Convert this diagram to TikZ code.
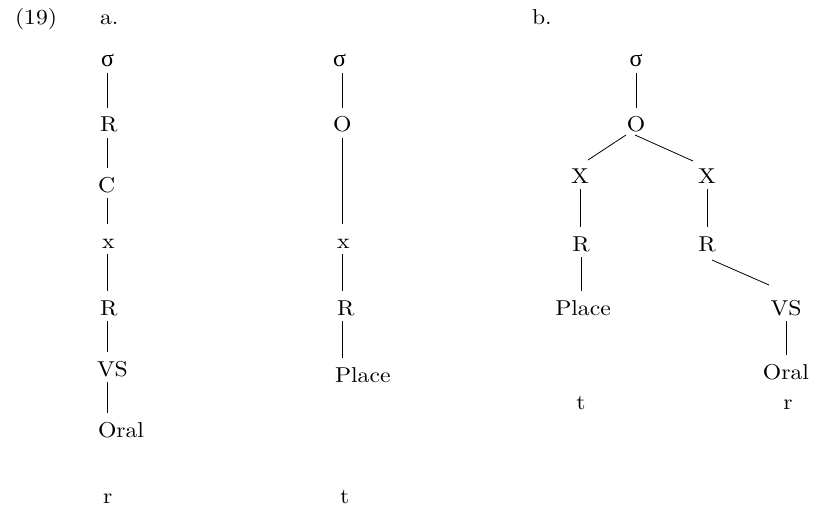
\documentclass[tikz,border=0pt]{standalone}
\usepackage{fontspec}
\setmainfont{lmroman10-regular}[Extension=.otf, FakeStretch=1.1]
\newfontfamily\grk{Liberation Serif}
\newcommand{\sig}{{\grk\fontsize{24}{25}\selectfont σ}}
\usetikzlibrary{calc}
\begin{document}
\begin{tikzpicture}[x=1pt,y=-1pt,
  lab/.style={inner sep=0pt, outer sep=0pt, text height=15pt, text depth=0pt, font=\fontsize{21.5}{25}\selectfont},
  lw/.style={lab, anchor=base west},
  lc/.style={lab, anchor=base},
  ln/.style={line width=0.8pt, shorten <=6pt, shorten >=9pt},
  dl/.style={line width=0.8pt}]
\useasboundingbox (0,0) rectangle (814,508);
% headings
\node[lw] (num) at (15,25) {(19)};
\node[lw] (ha) at (100,25) {a.};
\node[lw] (hb) at (532,25) {b.};
% column 1
\coordinate (L1) at (107,0);
\node[lw] (s1) at (101,67) {\sig};
\node[lw] (r1) at (100,132) {R};
\node[lw] (c1) at (98,192) {C};
\node[lw] (x1) at (102,248) {x};
\node[lw] (rr1) at (100,315) {R};
\node[lw] (vs1) at (97,376) {VS};
\node[lw] (or1) at (98,437) {Oral};
\node[lw] (seg1) at (103,503) {r};
\draw[ln] (s1.south -| L1) -- (r1.north -| L1);
\draw[ln] (r1.south -| L1) -- (c1.north -| L1);
\draw[ln] (c1.south -| L1) -- (x1.north -| L1);
\draw[ln] (x1.south -| L1) -- (rr1.north -| L1);
\draw[ln] (rr1.south -| L1) -- (vs1.north -| L1);
\draw[ln] (vs1.south -| L1) -- (or1.north -| L1);
% column 2
\coordinate (L2) at (342,0);
\node[lw] (s2) at (333,67) {\sig};
\node[lw] (o2) at (333,132) {O};
\node[lw] (x2) at (337,248) {x};
\node[lw] (r2) at (337,315) {R};
\node[lw] (p2) at (335,382) {Place};
\node[lw] (seg2) at (340,503) {t};
\draw[ln] (s2.south -| L2) -- (o2.north -| L2);
\draw[ln] (o2.south -| L2) -- (x2.north -| L2);
\draw[ln] (x2.south -| L2) -- (r2.north -| L2);
\draw[ln] (r2.south -| L2) -- (p2.north -| L2);
% tree b
\node[lc] (sb) at (636,67) {\sig};
\node[lc] (ob) at (636,132) {O};
\node[lc] (xl) at (580,183) {X};
\node[lc] (xr) at (707,183) {X};
\node[lc] (rl) at (581,251) {R};
\node[lc] (rr) at (707,251) {R};
\node[lc] (pl) at (583,315) {Place};
\node[lc] (vsb) at (786,315) {VS};
\node[lc] (orb) at (786,379) {Oral};
\node[lc] (tb) at (581,409) {t};
\node[lc] (rb) at (788,409) {r};
\draw[ln] (sb.south) -- (ob.north);
\draw[dl] ($(ob.base)+(-10,3)$) -- ($(xl.base)+(8,-23)$);
\draw[dl] ($(ob.base)+(-1,3)$) -- ($(xr.base)+(-14,-22)$);
\draw[ln] (xl.south) -- (rl.north -| xl);
\draw[ln] (xr.south) -- (rr.north);
\draw[ln] (rl.south) -- (pl.north -| rl);
\draw[dl] ($(rr.base)+(5,9)$) -- ($(vsb.base)+(-17,-30)$);
\draw[ln] (vsb.south) -- (orb.north);
\end{tikzpicture}
\end{document}
